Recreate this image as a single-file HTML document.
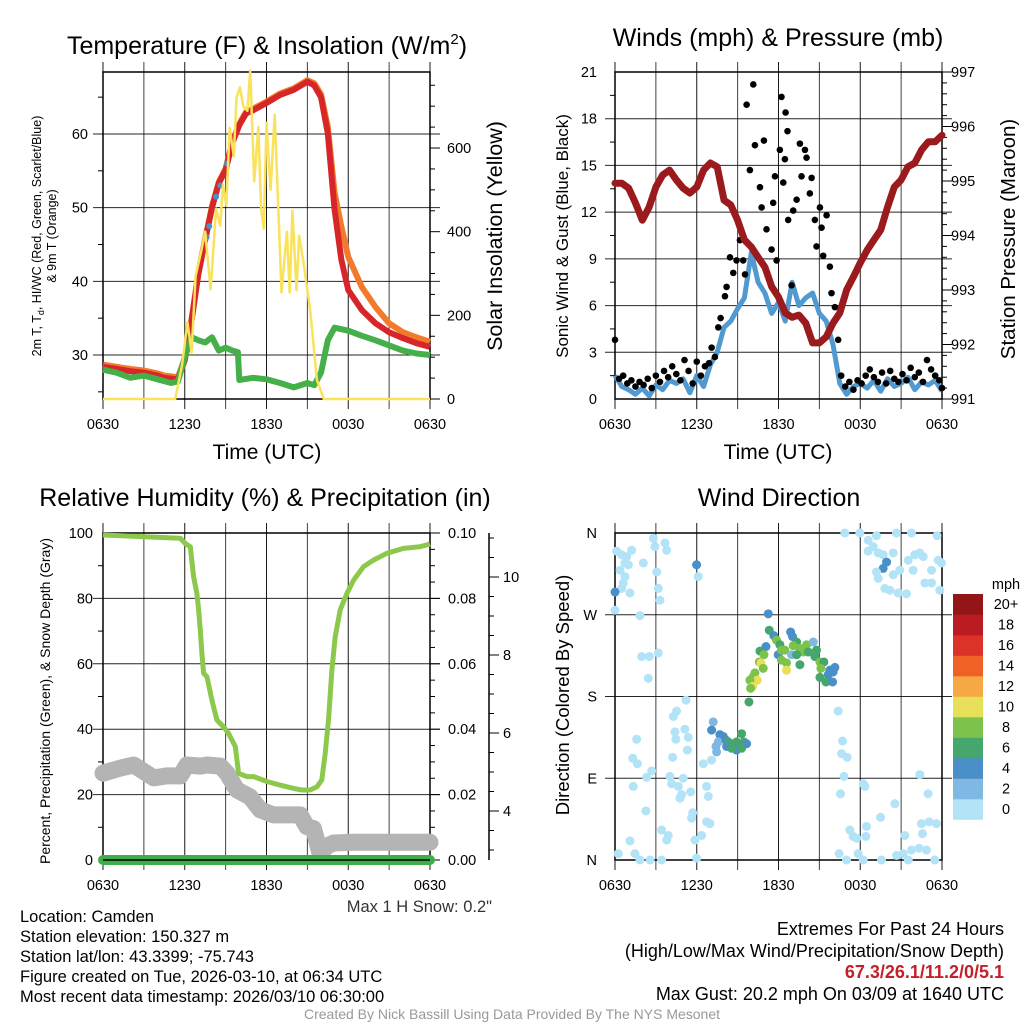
<!DOCTYPE html>
<html><head><meta charset="utf-8">
<style>
html,body{margin:0;padding:0;background:#fff;}
svg{display:block;font-family:"Liberation Sans",Arial,sans-serif;}
</style></head>
<body>
<svg id="chart" width="1024" height="1024" viewBox="0 0 1024 1024" xmlns="http://www.w3.org/2000/svg">
<rect width="1024" height="1024" fill="#fff"/>
<text x="267" y="54" font-size="25" text-anchor="middle">Temperature (F) &amp; Insolation (W/m<tspan font-size="15" dy="-10">2</tspan><tspan dy="10">)</tspan></text>
<text x="778" y="46" font-size="25" text-anchor="middle">Winds (mph) &amp; Pressure (mb)</text>
<text x="265" y="506" font-size="25" text-anchor="middle">Relative Humidity (%) &amp; Precipitation (in)</text>
<text x="779" y="506" font-size="25" text-anchor="middle">Wind Direction</text>

<text transform="translate(41,236) rotate(-90)" font-size="12.5" text-anchor="middle">2m T, T<tspan font-size="9" dy="3">d</tspan><tspan dy="-3">, HI/WC (Red, Green, Scarlet/Blue)</tspan></text>
<text transform="translate(56,236) rotate(-90)" font-size="12.5" text-anchor="middle">&amp; 9m T (Orange)</text>
<text transform="translate(502,236) rotate(-90)" font-size="21.5" text-anchor="middle">Solar Insolation (Yellow)</text>
<text x="267" y="459" font-size="21" text-anchor="middle">Time (UTC)</text>
<text transform="translate(568,236) rotate(-90)" font-size="17" text-anchor="middle">Sonic Wind &amp; Gust (Blue, Black)</text>
<text transform="translate(1015,239) rotate(-90)" font-size="20.5" text-anchor="middle">Station Pressure (Maroon)</text>
<text x="778" y="459" font-size="21" text-anchor="middle">Time (UTC)</text>
<text transform="translate(50,701) rotate(-90)" font-size="14" text-anchor="middle">Percent, Precipitation (Green), &amp; Snow Depth (Gray)</text>
<text transform="translate(569,695) rotate(-90)" font-size="18.5" text-anchor="middle">Direction (Colored By Speed)</text>

<text x="492" y="912" font-size="16.5" fill="#333" text-anchor="end">Max 1 H Snow: 0.2"</text>
<g font-size="16.5">
<text x="20" y="922">Location: Camden</text>
<text x="20" y="942">Station elevation: 150.327 m</text>
<text x="20" y="962">Station lat/lon: 43.3399; -75.743</text>
<text x="20" y="982">Figure created on Tue, 2026-03-10, at 06:34 UTC</text>
<text x="20" y="1002">Most recent data timestamp: 2026/03/10 06:30:00</text>
</g>
<g font-size="18" text-anchor="end">
<text x="1004" y="935">Extremes For Past 24 Hours</text>
<text x="1004" y="957">(High/Low/Max Wind/Precipitation/Snow Depth)</text>
<text x="1004" y="978" fill="#c4202a" font-weight="bold">67.3/26.1/11.2/0/5.1</text>
<text x="1004" y="1000">Max Gust: 20.2 mph On 03/09 at 1640 UTC</text>
</g>
<text x="512" y="1019" font-size="14" fill="#999" text-anchor="middle">Created By Nick Bassill Using Data Provided By The NYS Mesonet</text>
<g id="marks"></g>
</svg>
<script>
// ---------- DATA ----------
const tempTimes = [0,1,2,3,4,4.5,5.5,6,6.5,7,7.5,8,8.5,9,9.5,10,10.5,11,12,13,14,15,15.5,16,16.5,17,17.5,18,19,20,21,22,23,24];
const tempRed   = [28.4,28.1,27.8,27.6,27.2,26.9,26.7,29.3,34.7,41,45.6,50,53.3,55.1,58.8,61.2,62.8,63.2,64.2,65.3,66,67.1,66.6,65,60.1,49.7,42.9,38.8,36.1,34.3,33.1,32.3,31.6,31.1];
const tempOrange= [28.7,28.4,28.1,27.9,27.5,27.2,27,29.5,34.9,41.2,45.8,50.2,53.5,55.3,59,61.4,63,63.4,64.4,65.5,66.2,67.3,66.9,65.4,61,52,47.4,43.3,39.2,36.5,34.3,33.1,32.4,31.8];
const tempGreenTimes = [0,1,2,3,4,5,5.5,6,6.5,7,7.5,8,8.5,9,9.5,9.9,10,11,12,13,14,15,15.5,16,16.5,17,18,19,20,21,22,23,24];
const tempGreen = [28,27.6,26.9,27.2,26.7,26.2,26.4,29.7,32.4,32,31.7,32.4,30.6,31,30.6,30.4,26.6,26.9,26.7,26.2,25.6,26.2,25.9,27.6,32,33.7,33.3,32.6,32,31.3,30.6,30.2,30];
const hiwcTimes = [7.6,7.8,8.3,8.6,9.1];
const hiwcValues = [46,47.5,51.5,53,56];
const solarTimes = [0,5.3,5.8,6.2,6.5,6.8,7.2,7.5,7.9,8.3,8.6,8.8,9.05,9.3,9.6,9.8,10.05,10.3,10.6,10.8,11.1,11.4,11.6,11.8,12.0,12.3,12.6,13.1,13.5,13.7,13.9,14.2,14.4,14.7,15.2,15.7,16.2,24];
const solarValues = [0,0,80,183,111,294,352,400,262,455,414,511,463,648,580,720,745,700,689,785,520,650,455,407,660,500,680,255,400,255,450,260,390,330,214,46,0,0];

const windTimes = [0,0.5,1,1.5,2,2.5,3,3.5,4,4.5,5,5.5,6,6.5,7,7.5,8,8.5,9,9.5,10,10.5,11,11.5,12,12.5,13,13.5,14,14.5,15,15.5,16,16.5,17,17.5,18,18.5,19,19.5,20,20.5,21,21.5,22,22.5,23,23.5,24];
const windSpeed = [1.5,0.8,0.6,0.3,0.7,0.2,0.9,0.6,1.2,1.0,1.3,0.4,1.5,0.8,2.2,3.0,4.6,5.0,5.8,6.5,9.4,7.5,6.8,5.5,6.2,5.0,7.5,6.0,6.5,6.8,5.5,5.0,3.5,1.0,0.3,0.8,1.0,0.7,1.2,0.5,1.3,0.8,1.0,1.4,0.6,1.1,0.9,1.2,0.5];
const gustTimes = [0,0.3,0.6,0.9,1.2,1.5,1.8,2.1,2.4,2.7,3,3.3,3.6,3.9,4.2,4.5,4.8,5.1,5.4,5.7,6,6.3,6.6,6.9,7.09,7.33,7.58,7.75,8.07,8.19,8.44,8.68,8.92,9.17,9.41,9.54,9.66,9.66,9.9,10.15,10.27,10.64,10.76,10.93,11.12,11.49,11.61,11.74,11.86,12.1,12.22,12.35,12.47,12.52,12.66,12.71,12.96,13.08,13.33,13.57,13.69,13.94,14.06,14.3,14.43,14.67,14.79,15.04,15.16,15.28,15.53,15.77,15.89,16.14,16.38,16.6,16.9,17.2,17.5,17.8,18.1,18.4,18.7,19,19.3,19.6,19.9,20.2,20.5,20.8,21.1,21.4,21.7,22,22.3,22.6,22.9,23.2,23.5,23.8,24];
const gustValues = [3.8,1.3,1.5,1.0,1.2,0.8,1.1,0.9,1.3,0.7,1.5,1.1,1.8,1.4,2.1,1.6,1.2,2.5,1.8,1.0,2.4,1.5,2.1,2.3,3.3,2.7,4.6,5.2,6.6,7.2,9.1,8.1,8.9,10.2,8.9,8.0,10.1,18.9,14.7,20.2,16.3,13.6,12.3,16.6,10.9,9.6,12.6,14.3,8.9,16.0,19.4,13.9,15.4,18.4,17.2,11.5,7.3,12.1,12.8,16.4,14.3,16.0,15.5,13.2,14.2,11.5,9.8,12.3,11.0,9.2,11.8,8.5,6.8,5.9,3.8,1.5,0.8,1.1,0.6,1.2,1.0,1.5,1.9,1.4,1.1,1.7,1.0,1.8,1.3,1.1,1.6,1.2,2.0,1.4,1.7,1.1,2.5,1.9,1.5,1.2,0.7];
const pressureTimes = windTimes;
const pressureValues = [994.96,994.96,994.87,994.6,994.28,994.52,994.89,995.11,995.2,995.02,994.87,994.78,994.89,995.2,995.33,995.26,994.65,994.56,994.28,993.92,993.79,993.6,993.42,993.06,992.87,992.58,992.5,992.54,992.39,992.03,992.03,992.14,992.39,992.58,993.0,993.24,993.5,993.73,993.92,994.1,994.52,994.89,995.02,995.26,995.33,995.57,995.72,995.72,995.84];

const rhTimes = [0,5.67,6.04,6.41,6.65,6.89,7.02,7.14,7.26,7.38,7.63,7.99,8.36,8.85,9.22,9.71,9.95,10.56,11.05,12.03,13.0,13.99,14.6,15.2,15.7,16.06,16.31,16.55,16.8,17.04,17.41,17.9,18.39,19.12,19.85,20.83,22.05,23.28,24];
const rhValues = [99.4,98.4,96.8,95.8,86.6,81.5,76.5,70.3,63.2,57.1,56.0,48.9,42.8,40.7,38.7,34.7,26.5,25.5,25.5,24.0,22.9,21.9,21.4,21.4,22.4,24.5,32.6,42.8,58.1,68.3,76.5,81.5,85.6,89.7,91.7,93.8,95.3,95.8,96.6];
const snowTimes = [0,1.27,2.25,3.72,4.69,5.67,6.16,7.14,7.63,8.61,9.1,9.83,10.8,11.54,12.52,14.47,14.96,15.45,15.94,16.43,16.92,18.39,24];
const snowValues = [4.97,5.1,5.18,4.85,4.9,4.9,5.18,5.15,5.18,5.15,4.97,4.54,4.36,4.03,3.9,3.9,3.6,3.55,2.9,3.1,3.18,3.2,3.2];
const precipTimes = [0,24];
const precipValues = [0,0];

const dirTimes = [2.81,2.93,3.67,3.79,0.12,0.49,0.86,1.22,0.73,0.37,0.98,2.08,3.06,0.73,0.61,0.49,1.1,3.18,3.3,0,1.83,1.96,2.52,3.18,2.44,6.11,5.99,0,
16.87,17.97,19.19,20.66,21.76,23.64,18.58,18.95,18.58,19.32,19.68,20.42,19.93,19.68,19.19,19.32,20.42,20.9,21.88,21.52,22.0,22.37,22.62,23.23,23.72,23.96,22.74,23.23,23.84,19.8,20.17,20.78,21.39,
5.21,4.52,4.28,4.4,4.47,5.13,5.38,1.59,1.3,1.64,2.69,2.32,1.34,4.03,4.16,4.65,4.89,5.01,4.77,5.55,5.31,4.23,6.48,7.09,2.27,3.42,3.91,3.79,1.1,0.24,1.47,1.83,2.57,3.42,5.7,5.62,6.72,6.97,6.36,5.87,5.99,6.72,6.85,
16.38,16.7,16.63,17.04,16.8,16.55,18.22,18.34,20.54,19.49,18.46,17.24,17.48,17.73,18.41,16.45,16.99,17.85,18.22,19.56,20.66,21.15,21.27,21.76,22.32,22.86,22.49,23.06,23.59,22.57,22.37,22.98,23.47,21.52,
11.25,11.32,11.66,11.86,11.08,10.64,10.93,11.98,12.1,12.22,12.47,10.59,10.71,10.88,12.22,12.59,12.59,12.89,13.03,13.33,13.08,13.57,14.06,13.81,14.18,14.55,14.79,14.67,15.04,15.33,15.11,13.57,12.96,13.33,15.77,16.14,16.01,15.65,15.04,15.48,15.97,10.27,10.15,10.44,9.9,10.1,9.95,9.83,
7.21,7.09,7.7,7.95,7.58,8.14,8.31,8.68,8.92,9.29,9.46,9.66,8.92,8.19,7.46,8.56,9.29,7.41];
const dirValues = [354,345,349,341,340,336,334,341,327,319,325,327,317,312,305,299,294,299,286,275,269,224,224,228,200,312,325,295,
360,360,357,360,360,357,352,345,340,338,336,338,328,321,317,310,314,319,319,330,336,338,334,319,330,327,305,305,297,299,297,294,293,
176,164,158,141,133,144,135,133,112,106,98,91,81,92,84,81,72,90,68,75,121,113,106,110,54,33,27,22,21,7,7,0,0,0,52,46,42,40,27,22,2,81,70,
164,131,117,113,92,73,84,81,62,47,37,33,26,24,26,7,0,7,0,0,5,7,27,11,13,11,40,42,40,29,94,73,0,0,
271,253,247,242,235,230,226,226,237,231,231,218,217,211,220,217,209,251,246,240,236,233,237,229,229,240,231,224,218,218,211,215,226,226,209,212,207,204,201,196,196,206,202,198,198,191,189,174,
152,143,138,136,130,132,130,128,130,139,130,128,121,125,119,123,123,125];
const dirSpeeds = [1,1,1,1,1,1,1,1,1,1,1,1,1,1,1,1,1,1,1,1,1,1,1,1,1,1,4,4,
1,1,1,1,1,1,1,1,1,1,1,1,4,4,1,1,1,1,1,1,1,1,1,1,1,1,1,1,1,1,1,1,1,
1,1,1,1,1,1,1,1,1,1,1,1,1,1,1,1,1,1,1,1,1,1,1,1,1,1,1,1,1,1,1,1,1,1,1,1,1,1,1,1,1,1,1,
1,1,1,1,1,1,1,1,1,1,1,1,1,1,1,1,1,1,1,1,1,1,1,1,1,1,1,1,1,1,1,1,1,1,
4,6,4,8,4,6,8,4,6,8,8,8,10,8,8,8,10,4,4,6,8,8,8,8,6,2,6,6,8,6,8,6,2,6,4,4,4,4,6,6,4,8,8,10,8,10,8,6,
2,4,4,4,2,4,6,6,6,6,6,4,4,4,2,6,6,2];
const speedColors = ['#b3e3f7','#7fb9e3','#4a8fc7','#45a66e','#7dc24b','#e6e05a','#f5a843','#ef6127','#dd3228','#bb1c24','#941518'];
const speedLabels = ['0','2','4','6','8','10','12','14','16','18','20+'];
const timeTickLabels = ['0630','1230','1830','0030','0630'];
const tempTicks = [30,40,50,60];
const solarTicks = [0,200,400,600];
const windTicks = [0,3,6,9,12,15,18,21];
const pressureTicks = [991,992,993,994,995,996,997];
const rhTicks = [0,20,40,60,80,100];
const precipTicks = ['0.00','0.02','0.04','0.06','0.08','0.10'];
const snowTicks = [4,6,8,10];
const dirTickLabels = ['N','E','S','W','N'];

// ---------- HELPERS ----------
const NS = 'http://www.w3.org/2000/svg';
const root = document.getElementById('marks');
function mk(tag, attrs, parent) {
  const e = document.createElementNS(NS, tag);
  for (const k in attrs) e.setAttribute(k, attrs[k]);
  (parent || root).appendChild(e);
  return e;
}
const L = 103, R = 430;
function xT(t) { return L + t / 24 * (R - L); }
const yTemp = v => 355 - (v - 30) * 7.367;
const ySolar = v => 399 - v * 0.4183;
const yWind = v => 399 - v * 15.571;
const yPres = v => 399 - (v - 991) * 54.5;
const yRH = v => 860 - v * 3.27;
const ySnow = v => 577 + (10 - v) * 39;
const yDir = v => 860 - v / 360 * 327;

function linePath(ts, vs, xf, yf) {
  return ts.map((t, i) => (i ? 'L' : 'M') + xf(t).toFixed(1) + ',' + yf(vs[i]).toFixed(1)).join('');
}

function panelFrame(name, x0, x1, y0, y1, hLines) {
  const g = mk('g', {});
  
  
  for (let h = 0; h <= 24; h += 3) {
    const x = x0 + h / 24 * (x1 - x0);
    const gl = mk('line', {x1: x, x2: x, y1: y0 - 10, y2: y1 + 10, stroke: '#000', 'stroke-width': 1, 'stroke-opacity': (h % 6 === 0 ? 0.9 : 0.75)}, g);
    
    
  }
  hLines.forEach(y => {
    const hl = mk('line', {x1: x0 - 10, x2: x1 + 10, y1: y, y2: y, stroke: '#000', 'stroke-width': 1, 'stroke-opacity': 0.85}, g);
    
    
  });
  const b = mk('rect', {x: x0, y: y0, width: x1 - x0, height: y1 - y0, fill: 'none', stroke: '#000', 'stroke-width': 1.5}, g);
  
  
  timeTickLabels.forEach((lab, i) => {
    const tx = mk('text', {x: x0 + i / 4 * (x1 - x0), y: y1 + 30, 'font-size': 14.5, 'text-anchor': 'middle'}, g);
    
    
    tx.textContent = lab;
  });
  return g;
}
function tickLabel(g, x, y, txt, anchor, size) {
  const tx = mk('text', {x: x, y: y + 5, 'font-size': size || 14.5, 'text-anchor': anchor}, g);
  
  
  tx.textContent = txt;
}
function minor(g, x, y, dir) {
  mk('line', {x1: x, x2: x + dir * 5, y1: y, y2: y, stroke: '#000', 'stroke-width': 1}, g);
}

// ---------- PANEL 1 ----------
let g1 = panelFrame('temp-panel', L, R, 72, 399, tempTicks.map(yTemp));
tempTicks.forEach(v => tickLabel(g1, 88, yTemp(v), String(v), 'end'));
for (let v = 25; v <= 65; v += 10) minor(g1, L, yTemp(v), -1);
solarTicks.forEach(v => tickLabel(g1, 447, ySolar(v), String(v), 'start'));
for (let v = 0; v <= 750; v += 50) if (v % 200) minor(g1, R, ySolar(v), 1);
solarTicks.forEach(v => mk('line', {x1: R, x2: R + 10, y1: ySolar(v), y2: ySolar(v), stroke: '#000'}, g1));

let p = mk('path', {d: linePath(tempTimes, tempOrange, xT, yTemp), fill: 'none', stroke: '#f27b2b', 'stroke-width': 6, 'stroke-linejoin': 'round'});


p = mk('path', {d: linePath(tempTimes, tempRed, xT, yTemp), fill: 'none', stroke: '#d7262a', 'stroke-width': 6, 'stroke-linejoin': 'round'});


p = mk('path', {d: linePath(tempGreenTimes, tempGreen, xT, yTemp), fill: 'none', stroke: '#45b04a', 'stroke-width': 6, 'stroke-linejoin': 'round'});


hiwcTimes.forEach((t, i) => {
  const c = mk('circle', {cx: xT(t), cy: yTemp(hiwcValues[i]), r: 3, fill: '#4a90c8'});
  
  
});
p = mk('path', {d: linePath(solarTimes, solarValues, xT, ySolar), fill: 'none', stroke: '#fae25a', 'stroke-width': 2.5, 'stroke-linejoin': 'round'});



// ---------- PANEL 2 ----------
const L2 = 615, R2 = 942;
const xT2 = t => L2 + t / 24 * (R2 - L2);
let g2 = panelFrame('wind-panel', L2, R2, 72, 399, windTicks.slice(1, -1).map(yWind));
windTicks.forEach(v => tickLabel(g2, 597, yWind(v), String(v), 'end'));
for (let v = 1.5; v < 21; v += 3) minor(g2, L2, yWind(v), -1);
pressureTicks.forEach(v => { tickLabel(g2, 951, yPres(v), String(v), 'start'); mk('line', {x1: R2, x2: R2 + 10, y1: yPres(v), y2: yPres(v), stroke: '#000'}, g2); });
for (let v = 991.2; v < 997; v += 0.2) minor(g2, R2, yPres(v), 1);
p = mk('path', {d: linePath(windTimes, windSpeed, xT2, yWind), fill: 'none', stroke: '#5199d1', 'stroke-width': 5, 'stroke-linejoin': 'round'});


gustTimes.forEach((t, i) => {
  const c = mk('circle', {cx: xT2(t), cy: yWind(gustValues[i]), r: 3.3, fill: '#000'});
  
  
});
p = mk('path', {d: linePath(pressureTimes, pressureValues, xT2, yPres), fill: 'none', stroke: '#9a1a1d', 'stroke-width': 7, 'stroke-linejoin': 'round', 'stroke-linecap': 'round'});



// ---------- PANEL 3 ----------
let g3 = panelFrame('rh-panel', L, R, 533, 860, rhTicks.slice(1, -1).map(yRH));
rhTicks.forEach(v => tickLabel(g3, 93, yRH(v), String(v), 'end'));
for (let v = 10; v < 100; v += 20) minor(g3, L, yRH(v), -1);
precipTicks.forEach((s, i) => { tickLabel(g3, 448, yRH(i * 20), s, 'start'); mk('line', {x1: R, x2: R + 10, y1: yRH(i * 20), y2: yRH(i * 20), stroke: '#000'}, g3); });
for (let v = 5; v < 100; v += 5) if (v % 20) minor(g3, R, yRH(v), 1);
const sa = mk('line', {x1: 489, x2: 489, y1: 533, y2: 860, stroke: '#000', 'stroke-width': 1.5}, g3);


snowTicks.forEach(v => { tickLabel(g3, 503, ySnow(v), String(v), 'start'); mk('line', {x1: 489, x2: 499, y1: ySnow(v), y2: ySnow(v), stroke: '#000'}, g3); });
for (let v = 3; v <= 11; v += 0.5) if (v % 2) minor(g3, 489, ySnow(v), 1);
p = mk('path', {d: linePath(snowTimes, snowValues, xT, ySnow), fill: 'none', stroke: '#b4b4b4', 'stroke-width': 17, 'stroke-linejoin': 'round', 'stroke-linecap': 'round'});


p = mk('path', {d: linePath(rhTimes, rhValues, xT, yRH), fill: 'none', stroke: '#8cc84b', 'stroke-width': 5, 'stroke-linejoin': 'round'});


p = mk('path', {d: linePath(precipTimes, precipValues, xT, v => yRH(v * 1000)), fill: 'none', stroke: '#3dae49', 'stroke-width': 10, 'stroke-linecap': 'round'});


mk('line', {x1: L, x2: R, y1: 860, y2: 860, stroke: '#000', 'stroke-width': 1.5});

// ---------- PANEL 4 ----------
let g4 = panelFrame('direction-panel', L2, R2, 533, 860, [90, 180, 270].map(yDir));
dirTickLabels.forEach((s, i) => tickLabel(g4, 597, yDir(i * 90), s, 'end'));
dirTimes.forEach((t, i) => {
  const s = dirSpeeds[i];
  const c = mk('circle', {cx: xT2(t), cy: yDir(dirValues[i]), r: 4.5, fill: speedColors[Math.min(10, Math.floor(s / 2))]});
  
  
});
// colorbar
const cb = mk('g', {});


const mph = mk('text', {x: 1006, y: 589, 'font-size': 14.5, 'text-anchor': 'middle'}, cb);


mph.textContent = 'mph';
speedLabels.forEach((lab, i) => {
  const k = 10 - i;
  const y = 594 + k * 20.5;
  const r = mk('rect', {x: 953, y: y, width: 30, height: 20.8, fill: speedColors[i]}, cb);
  
  
  const tx = mk('text', {x: 1006, y: y + 15, 'font-size': 14.5, 'text-anchor': 'middle'}, cb);
  
  
  tx.textContent = lab;
});
</script>
</body></html>
